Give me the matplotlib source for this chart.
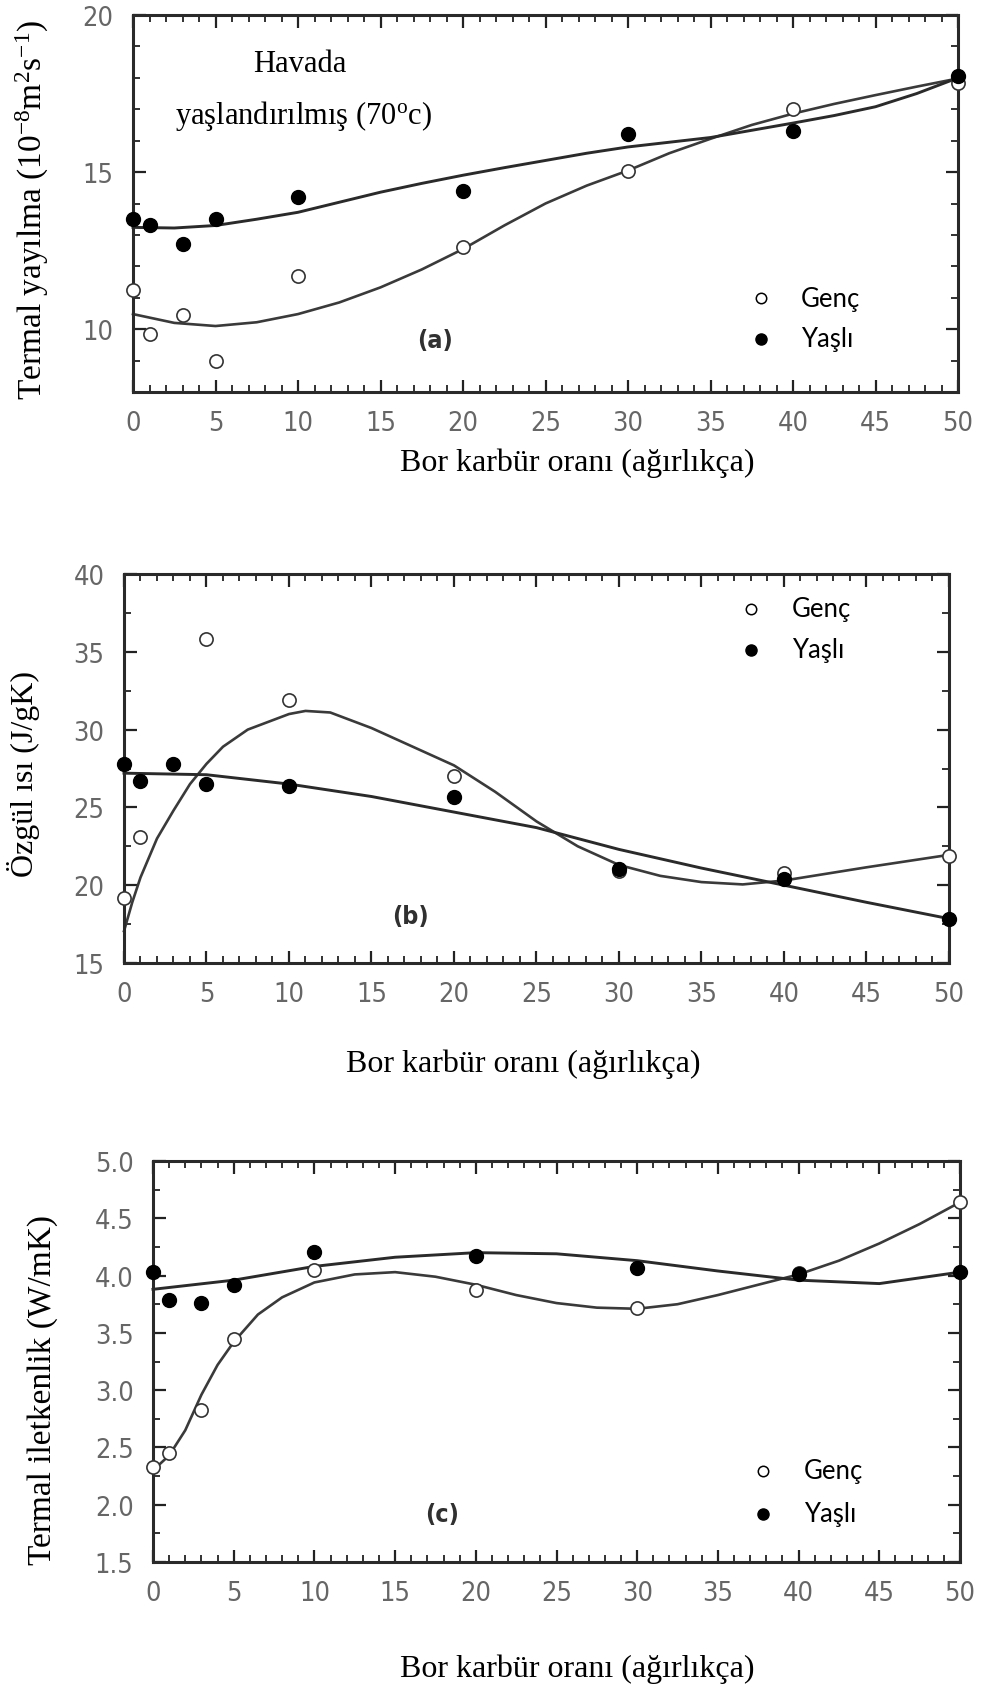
import matplotlib
matplotlib.use("Agg")
import matplotlib.pyplot as plt
from matplotlib.ticker import MultipleLocator
from matplotlib.lines import Line2D

W, H = 983, 1690

plt.rcParams["mathtext.fontset"] = "custom"
plt.rcParams["mathtext.rm"] = "Liberation Serif"
plt.rcParams["mathtext.it"] = "Liberation Serif:italic"

# boron carbide content (wt %)
bc = [0, 1, 3, 5, 10, 20, 30, 40, 50]

# (a) thermal diffusivity, 1e-8 m2/s
diff_genc = [11.25, 9.85, 10.45, 9.0, 11.7, 12.6, 15.05, 17.0, 17.85]
diff_yasli = [13.5, 13.3, 12.7, 13.5, 14.2, 14.4, 16.2, 16.3, 18.05]

# (b) specific heat, J/gK
cp_genc = [19.2, 23.1, None, 35.8, 31.9, 27.0, 20.9, 20.8, 21.9]
cp_yasli = [27.8, 26.7, 27.8, 26.5, 26.4, 25.7, 21.05, 20.4, 17.85]

# (c) thermal conductivity, W/mK
k_genc = [2.33, 2.45, 2.83, 3.45, 4.05, 3.87, 3.72, 4.02, 4.64]
k_yasli = [4.03, 3.79, 3.76, 3.92, 4.21, 4.17, 4.07, 4.01, 4.03]

# fitted trend curves
fit_x = [0, 2.5, 5, 7.5, 10, 12.5, 15, 17.5, 20, 22.5, 25, 27.5, 30,
         32.5, 35, 37.5, 40, 42.5, 45, 47.5, 50]
diff_genc_fit = [10.48, 10.2, 10.1, 10.22, 10.48, 10.85, 11.33, 11.9, 12.55,
                 13.3, 14.0, 14.57, 15.05, 15.6, 16.06, 16.5, 16.86, 17.17,
                 17.45, 17.72, 17.98]
diff_yasli_fit = [13.24, 13.22, 13.3, 13.5, 13.72, 14.04, 14.36, 14.64, 14.9,
                  15.14, 15.37, 15.6, 15.8, 15.95, 16.1, 16.33, 16.56, 16.8,
                  17.08, 17.5, 18.0]

cp_genc_x = [0, 0.5, 1, 2, 3, 4, 5, 6, 7.5, 10, 11, 12.5, 15, 17.5, 20,
             22.5, 25, 27.5, 30, 32.5, 35, 37.5, 40, 45, 50]
cp_genc_fit = [17.05, 18.9, 20.5, 23.0, 24.8, 26.5, 27.8, 28.9, 30.0, 31.0,
               31.2, 31.1, 30.1, 28.9, 27.7, 26.0, 24.1, 22.5, 21.3, 20.6,
               20.2, 20.05, 20.3, 21.15, 21.95]
cp_yasli_x = [0, 5, 10, 15, 20, 25, 30, 35, 40, 45, 50]
cp_yasli_fit = [27.2, 27.1, 26.5, 25.7, 24.7, 23.7, 22.3, 21.1, 20.0, 18.9,
                17.85]

k_genc_x = [0, 1, 2, 3, 4, 5, 6.5, 8, 10, 12.5, 15, 17.5, 20, 22.5, 25, 27.5,
            30, 32.5, 35, 37.5, 40, 42.5, 45, 47.5, 50]
k_genc_fit = [2.3, 2.43, 2.65, 2.96, 3.22, 3.42, 3.66, 3.81, 3.94, 4.01, 4.03,
              3.99, 3.92, 3.83, 3.76, 3.72, 3.71, 3.75, 3.83, 3.92, 4.01, 4.13,
              4.28, 4.45, 4.64]
k_yasli_x = [0, 5, 10, 15, 20, 25, 30, 35, 40, 45, 50]
k_yasli_fit = [3.88, 3.96, 4.08, 4.16, 4.2, 4.19, 4.13, 4.04, 3.96, 3.93,
               4.03]

xlabel = "Bor karbür oranı (ağırlıkça)"
serif = "Liberation Serif"
tickfont = "DejaVu Sans"


def fx(x):
    return x / W


def fy(y):
    return 1 - y / H


def make_axes(left, top, right, bottom):
    return fig.add_axes([fx(left), fy(bottom), (right - left) / W, (bottom - top) / H])


def style(ax, ylim, ymajor, yminor, yfmt):
    ax.set_xlim(0, 50)
    ax.set_ylim(*ylim)
    ax.xaxis.set_major_locator(MultipleLocator(5))
    ax.xaxis.set_minor_locator(MultipleLocator(1))
    ax.yaxis.set_major_locator(MultipleLocator(ymajor))
    ax.yaxis.set_minor_locator(MultipleLocator(yminor))
    ax.tick_params(which="both", direction="in", top=True, right=True,
                   colors="#222222", labelcolor="#666666")
    ax.tick_params(which="major", length=9, width=1.6, labelsize=19.5)
    ax.tick_params(which="minor", length=5, width=1.3)
    ax.tick_params(axis="x", pad=13)
    ax.tick_params(axis="y", pad=14)
    ax.yaxis.set_major_formatter(yfmt)
    for lab in ax.get_xticklabels() + ax.get_yticklabels():
        lab.set_family(tickfont)
        lab.set_stretch("condensed")
    for s in ax.spines.values():
        s.set_linewidth(2.2)
        s.set_color("#2a2a2a")


def draw(ax, fxs, fit_g, fit_y, gx, g, y):
    ax.plot(fxs[0], fit_g, color="#3a3a3a", lw=1.9, zorder=2, clip_on=False)
    ax.plot(fxs[1], fit_y, color="#2a2a2a", lw=2.1, zorder=2, clip_on=False)
    gx2 = [a for a, b in zip(gx, g) if b is not None]
    g2 = [b for b in g if b is not None]
    ax.plot(gx2, g2, "o", ms=9.5, mfc="white", mec="#333333", mew=1.2,
            zorder=3, clip_on=False)
    ax.plot(gx, y, "o", ms=10, mfc="black", mec="black", zorder=3, clip_on=False)


def legend(mx, y1, y2, tx):
    fig.add_artist(Line2D([fx(mx)], [fy(y1)], marker="o", ms=7.5, mfc="white",
                          mec="black", mew=1.1, transform=fig.transFigure))
    fig.add_artist(Line2D([fx(mx)], [fy(y2)], marker="o", ms=8, mfc="black",
                          mec="black", transform=fig.transFigure))
    fig.text(fx(tx), fy(y1), "Genç", family="Lato", fontsize=18.5, va="center",
             ha="left")
    fig.text(fx(tx), fy(y2), "Yaşlı", family="Lato", fontsize=18.5, va="center",
             ha="left")


def panel_tag(x, y, s):
    fig.text(fx(x), fy(y), s, family=tickfont, stretch="condensed", fontsize=18,
             fontweight="bold", color="#303030", ha="center", va="center")


fig = plt.figure(figsize=(W / 100, H / 100), dpi=100)

# (a) thermal diffusivity
ax1 = make_axes(133, 16, 958, 393)
style(ax1, (8, 20), 5, 1, "{x:.0f}")
draw(ax1, (fit_x, fit_x), diff_genc_fit, diff_yasli_fit, bc, diff_genc,
     diff_yasli)
fig.text(fx(300), fy(72), "Havada", family=serif, fontsize=22, ha="center",
         va="baseline")
fig.text(fx(304), fy(124), r"yaşlandırılmış (70$^{\mathrm{o}}$c)", family=serif,
         fontsize=22, ha="center", va="baseline")
panel_tag(435, 341, "(a)")
legend(761, 299, 340, 801)
fig.text(fx(577), fy(463), xlabel, family=serif, fontsize=23, ha="center",
         va="center")
fig.text(fx(32), fy(210), r"Termal yayılma (10$^{-8}$m$^{2}$s$^{-1}$)",
         family=serif, fontsize=24, rotation=90, ha="center", va="center")

# (b) specific heat
ax2 = make_axes(124, 575, 949, 964)
style(ax2, (15, 40), 5, 2.5, "{x:.0f}")
draw(ax2, (cp_genc_x, cp_yasli_x), cp_genc_fit, cp_yasli_fit, bc,
     cp_genc, cp_yasli)
panel_tag(410, 917, "(b)")
legend(751, 610, 651, 792)
fig.text(fx(523), fy(1064), xlabel, family=serif, fontsize=23, ha="center",
         va="center")
fig.text(fx(24), fy(774), "Özgül ısı (J/gK)", family=serif, fontsize=23,
         rotation=90, ha="center", va="center")

# (c) thermal conductivity
ax3 = make_axes(153, 1162, 960, 1563)
style(ax3, (1.5, 5.0), 0.5, 0.25, "{x:.1f}")
draw(ax3, (k_genc_x, k_yasli_x), k_genc_fit, k_yasli_fit, bc, k_genc,
     k_yasli)
panel_tag(442, 1515, "(c)")
legend(763, 1472, 1515, 804)
fig.text(fx(577), fy(1669), xlabel, family=serif, fontsize=23, ha="center",
         va="center")
fig.text(fx(43), fy(1390), "Termal iletkenlik (W/mK)", family=serif,
         fontsize=24, rotation=90, ha="center", va="center")

fig.savefig("out.png", dpi=100)
